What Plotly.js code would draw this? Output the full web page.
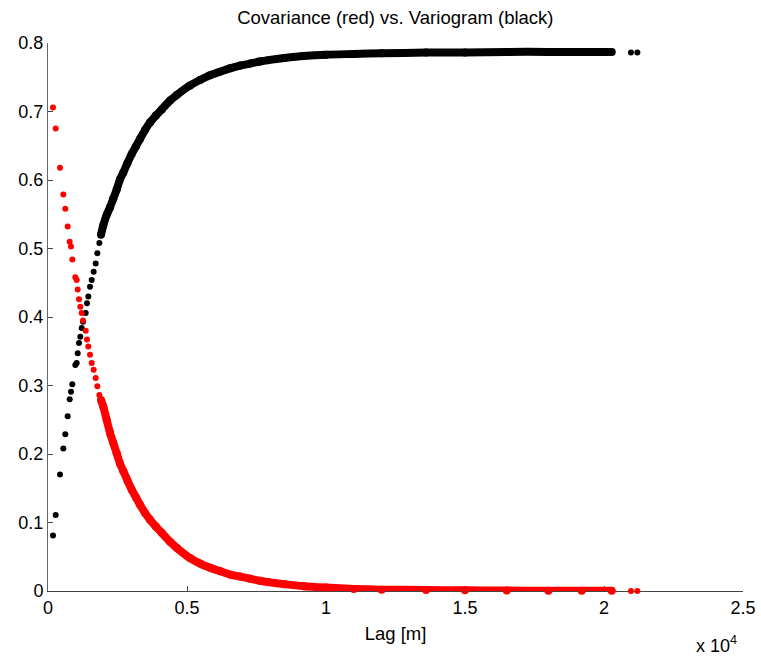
<!DOCTYPE html>
<html>
<head>
<meta charset="utf-8">
<script src="https://cdn.plot.ly/plotly-3.0.1.min.js"></script>
<style>html,body{margin:0;padding:0;background:#fff}</style>
</head>
<body>
<div id="chart" style="width:761px;height:656px"></div>
<script>
// Sparse (individual) lag pairs at short distances
const lagSparse = [180, 277, 432, 551, 623, 708, 780, 827, 875, 983, 1032, 1068, 1115, 1162, 1212, 1259, 1356, 1403, 1450, 1511, 1571, 1643, 1715, 1775, 1847];
const covSparse = [0.706, 0.675, 0.618, 0.579, 0.558, 0.532, 0.510, 0.503, 0.484, 0.458, 0.454, 0.440, 0.426, 0.415, 0.406, 0.395, 0.380, 0.367, 0.357, 0.345, 0.333, 0.323, 0.311, 0.299, 0.286];
const varSparse = [0.081, 0.111, 0.170, 0.208, 0.229, 0.255, 0.280, 0.291, 0.302, 0.330, 0.333, 0.347, 0.362, 0.371, 0.384, 0.393, 0.406, 0.420, 0.430, 0.444, 0.454, 0.466, 0.478, 0.493, 0.508];

// Dense band of lags
const lagDense = [1906, 1990, 2110, 2230, 2350, 2470, 2590, 2710, 2860, 3010, 3160, 3310, 3490, 3670, 3880, 4090, 4390, 4630, 5110, 5470, 5830, 6190, 6550, 6910, 7270, 7620, 7920, 8500, 9200, 10000, 11000, 12000, 13600, 15000, 16500, 18000, 19200, 20280];
const covDense = [0.279, 0.269, 0.250, 0.231, 0.216, 0.201, 0.186, 0.175, 0.161, 0.148, 0.137, 0.126, 0.114, 0.104, 0.094, 0.085, 0.072, 0.063, 0.048, 0.040, 0.034, 0.029, 0.024, 0.021, 0.018, 0.015, 0.013, 0.010, 0.007, 0.005, 0.003, 0.002, 0.0015, 0.001, 0.0006, 0.0004, 0.0003, 0.0002];
const varDense = [0.520, 0.534, 0.549, 0.560, 0.573, 0.586, 0.601, 0.611, 0.625, 0.638, 0.649, 0.660, 0.673, 0.684, 0.694, 0.703, 0.716, 0.724, 0.738, 0.746, 0.753, 0.758, 0.763, 0.767, 0.770, 0.773, 0.775, 0.778, 0.781, 0.783, 0.784, 0.785, 0.786, 0.786, 0.787, 0.787, 0.787, 0.787];

// Isolated long lags
const lagFar = [20970, 21200];
const covFar = [0.0, 0.0];
const varFar = [0.786, 0.786];

const xTickVals = [0, 5000, 10000, 15000, 20000, 25000];
const xTickText = ['0', '0.5', '1', '1.5', '2', '2.5'];

const RED = '#ff0000', BLACK = '#000000';
const FONT = 'Liberation Sans, Arial, Helvetica, sans-serif';

function pts(x, y, c) {
  return {x: x, y: y, type: 'scatter', mode: 'markers', cliponaxis: false,
    marker: {color: c, size: 6, line: {width: 0}}, hoverinfo: 'x+y', showlegend: false};
}
function band(x, y, c) {
  return {x: x, y: y, type: 'scatter', mode: 'lines+markers', cliponaxis: false,
    line: {color: c, width: 8, shape: 'spline', smoothing: 0.6},
    marker: {color: c, size: 8, line: {width: 0}}, hoverinfo: 'x+y', showlegend: false};
}

const data = [
  band(lagDense, varDense, BLACK),
  pts(lagSparse, varSparse, BLACK),
  pts(lagFar, varFar, BLACK),
  band(lagDense, covDense, RED),
  pts(lagSparse, covSparse, RED),
  pts(lagFar, covFar, RED)
];

const layout = {
  width: 761, height: 656,
  margin: {l: 48, r: 18, t: 43, b: 65},
  paper_bgcolor: '#fff', plot_bgcolor: '#fff',
  font: {family: FONT, size: 18, color: '#000'},
  title: {text: 'Covariance (red) vs. Variogram (black)', font: {family: FONT, size: 18.5, color: '#000'},
          x: 0.5195, xanchor: 'center', y: 1 - 18/656, yanchor: 'middle', yref: 'container', xref: 'container'},
  xaxis: {range: [0, 25000], tickvals: xTickVals, ticktext: xTickText,
          ticks: 'inside', ticklen: 5, tickcolor: '#444', tickwidth: 1,
          showline: true, linecolor: '#444', linewidth: 1, showgrid: false, zeroline: false,
          layer: 'below traces', tickfont: {family: FONT, size: 18},
          title: {text: 'Lag [m]', font: {family: FONT, size: 18.5}, standoff: 10}},
  yaxis: {range: [0, 0.8], dtick: 0.1, tick0: 0,
          ticks: 'inside', ticklen: 5, tickcolor: '#444', tickwidth: 1,
          showline: true, linecolor: '#666', linewidth: 1, showgrid: false, zeroline: false,
          layer: 'below traces', tickfont: {family: FONT, size: 18}},
  annotations: [{text: 'x 10<sup>4</sup>', xref: 'paper', yref: 'paper', x: 1.0, y: 0, xanchor: 'right', yanchor: 'top',
                 yshift: -40, xshift: -4, showarrow: false, font: {family: FONT, size: 18, color: '#000'}}],
  showlegend: false
};

Plotly.newPlot('chart', data, layout, {displayModeBar: false, staticPlot: true});
</script>
</body>
</html>
